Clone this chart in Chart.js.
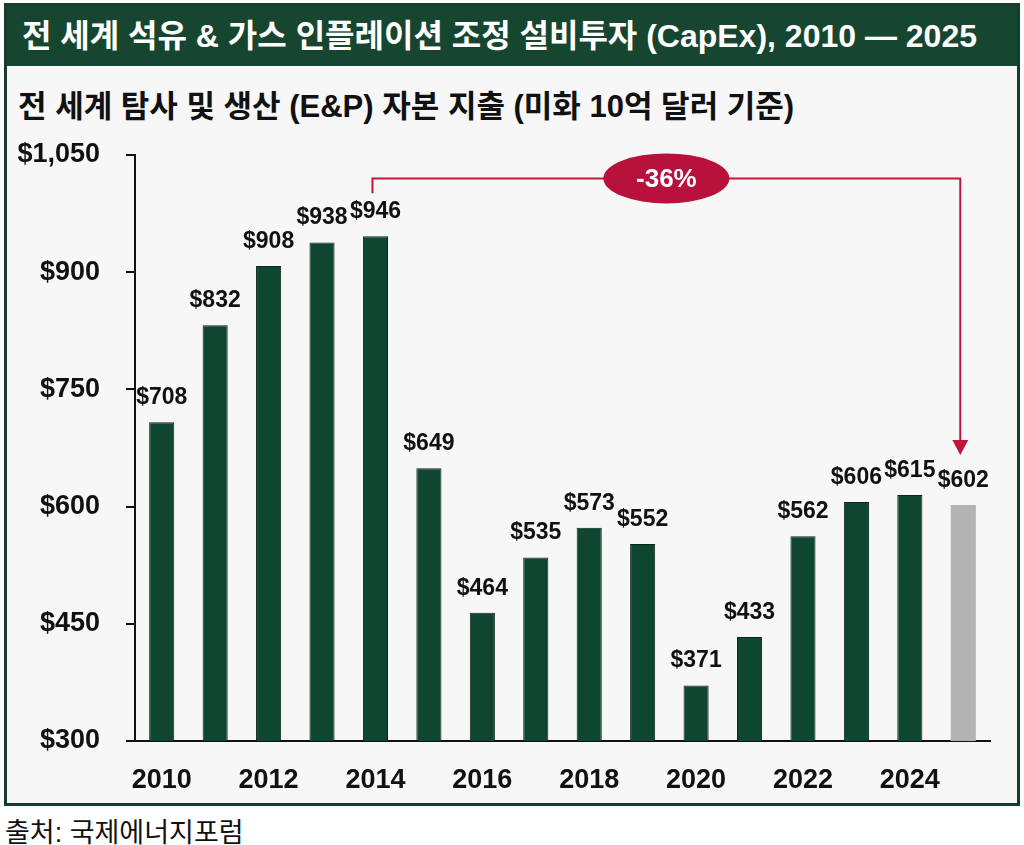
<!DOCTYPE html>
<html lang="ko">
<head>
<meta charset="utf-8">
<title>전 세계 석유 & 가스 설비투자</title>
<script src="https://cdn.jsdelivr.net/npm/chart.js@4.4.1/dist/chart.umd.min.js"></script>
<style>
  html, body { margin: 0; padding: 0; background: #ffffff; }
  body { width: 1024px; height: 845px; position: relative; overflow: hidden;
         font-family: "Liberation Sans", "Noto Sans CJK KR", sans-serif; }
  #frame { position: absolute; left: 4px; top: 3px; width: 1010px; height: 797px;
           border: 3px solid #173d2b; background: #f7f7f7; }
  #titlebar { position: absolute; left: 0; top: 0; width: 100%; height: 60px; background: #174630;
              color: #fff; font-weight: bold; font-size: 32px; line-height: 60px; padding-left: 15px;
              box-sizing: border-box; white-space: nowrap; }
  #subtitle { position: absolute; left: 11px; top: 75px; font-weight: bold; font-size: 31px;
              color: #111; white-space: nowrap; }
  #chartbox { position: absolute; left: 0; top: 120px; width: 1024px; height: 680px; }
  #source { position: absolute; left: 5px; top: 811px; font-size: 27px; color: #111; white-space: nowrap; }
</style>
</head>
<body>
<div id="frame">
  <div id="titlebar">전 세계 석유 &amp; 가스 인플레이션 조정 설비투자 (CapEx), 2010 — 2025</div>
  <div id="subtitle">전 세계 탐사 및 생산 (E&amp;P) 자본 지출 (미화 10억 달러 기준)</div>
</div>
<div id="chartbox"><canvas id="capexChart"></canvas></div>
<div id="source">출처: 국제에너지포럼</div>

<script>
// 연도별 E&P 설비투자 (10억 달러)
var years = ['2010', '2011', '2012', '2013', '2014', '2015', '2016', '2017',
             '2018', '2019', '2020', '2021', '2022', '2023', '2024', '2025'];
var capex = [708, 832, 908, 938, 946, 649, 464, 535, 573, 552, 371, 433, 562, 606, 615, 602];
var yTicks = [300, 450, 600, 750, 900, 1050];
var peakIndex = 4;      // 2014
var lastIndex = 15;     // 2025 (추정치)
var changeLabel = '-36%';

var green = '#0f4631';
var grey = '#b3b3b3';
var red = '#c0163d';
var fontFamily = "'Liberation Sans', 'Noto Sans CJK KR', sans-serif";

var barColors = capex.map(function (v, i) { return i === lastIndex ? grey : green; });
var barBorders = capex.map(function (v, i) { return i === lastIndex ? 0 : 1; });

// 막대 위 값 표시
var valueLabels = {
  id: 'valueLabels',
  afterDatasetsDraw: function (chart) {
    var ctx = chart.ctx;
    var meta = chart.getDatasetMeta(0);
    ctx.save();
    ctx.font = 'bold 23px ' + fontFamily;
    ctx.fillStyle = '#111';
    ctx.textAlign = 'center';
    ctx.textBaseline = 'bottom';
    meta.data.forEach(function (bar, i) {
      ctx.fillText('$' + capex[i], bar.x, bar.y - 13);
    });
    ctx.restore();
  }
};

// 2014 -> 2025 변화 화살표
var changeArrow = {
  id: 'changeArrow',
  afterDatasetsDraw: function (chart) {
    var ctx = chart.ctx;
    var meta = chart.getDatasetMeta(0);
    var y = chart.scales.y;
    var x1 = meta.data[peakIndex].x - 3;
    var x2 = meta.data[lastIndex].x - 3;
    var top = y.getPixelForValue(1020);
    var start = y.getPixelForValue(1001);
    var tip = meta.data[lastIndex].y - 50;
    ctx.save();
    ctx.strokeStyle = red;
    ctx.lineWidth = 2;
    ctx.beginPath();
    ctx.moveTo(x1, start);
    ctx.lineTo(x1, top);
    ctx.lineTo(x2, top);
    ctx.lineTo(x2, tip - 12);
    ctx.stroke();
    ctx.fillStyle = red;
    ctx.beginPath();
    ctx.moveTo(x2 - 8, tip - 15);
    ctx.lineTo(x2 + 8, tip - 15);
    ctx.lineTo(x2, tip);
    ctx.closePath();
    ctx.fill();
    // 타원 배지
    var cx = (x1 + x2) / 2;
    ctx.fillStyle = '#b8123c';
    ctx.beginPath();
    ctx.ellipse(cx, top, 63, 25, 0, 0, Math.PI * 2);
    ctx.fill();
    ctx.fillStyle = '#fff';
    ctx.font = 'bold 26px ' + fontFamily;
    ctx.textAlign = 'center';
    ctx.textBaseline = 'middle';
    ctx.fillText(changeLabel, cx, top + 1);
    ctx.restore();
  }
};

var ctx = document.getElementById('capexChart').getContext('2d');
var chart = new Chart(ctx, {
  type: 'bar',
  data: {
    labels: years,
    datasets: [{
      data: capex,
      backgroundColor: barColors,
      borderColor: '#08261a',
      borderWidth: barBorders,
      borderSkipped: 'bottom',
      categoryPercentage: 1.0,
      barPercentage: 0.47
    }]
  },
  options: {
    responsive: true,
    maintainAspectRatio: false,
    animation: false,
    layout: { padding: { top: 35, right: 34, left: 0, bottom: 0 } },
    plugins: {
      legend: { display: false },
      tooltip: { enabled: false }
    },
    scales: {
      x: {
        grid: { display: false },
        border: { display: true, color: '#111', width: 2 },
        ticks: {
          autoSkip: false,
          maxRotation: 0,
          padding: 15,
          color: '#111',
          font: { family: fontFamily, size: 27, weight: 'bold' },
          callback: function (v, i) { return i % 2 === 0 ? years[i] : ''; }
        },
        afterFit: function (scale) { scale.height = 59; }
      },
      y: {
        min: 300,
        max: 1050,
        afterBuildTicks: function (scale) {
          scale.ticks = yTicks.map(function (v) { return { value: v }; });
        },
        grid: { drawOnChartArea: false, drawTicks: true, tickLength: 9, color: '#111', lineWidth: 2 },
        border: { display: true, color: '#111', width: 2 },
        ticks: {
          padding: 26,
          color: '#111',
          font: { family: fontFamily, size: 27, weight: 'bold' },
          callback: function (v) { return '$' + v.toLocaleString('en-US'); }
        },
        afterFit: function (scale) {
          scale.width = 135;
          scale.paddingTop = 16;
          scale.paddingBottom = 16;
        }
      }
    }
  },
  plugins: [valueLabels, changeArrow]
});
</script>
</body>
</html>
